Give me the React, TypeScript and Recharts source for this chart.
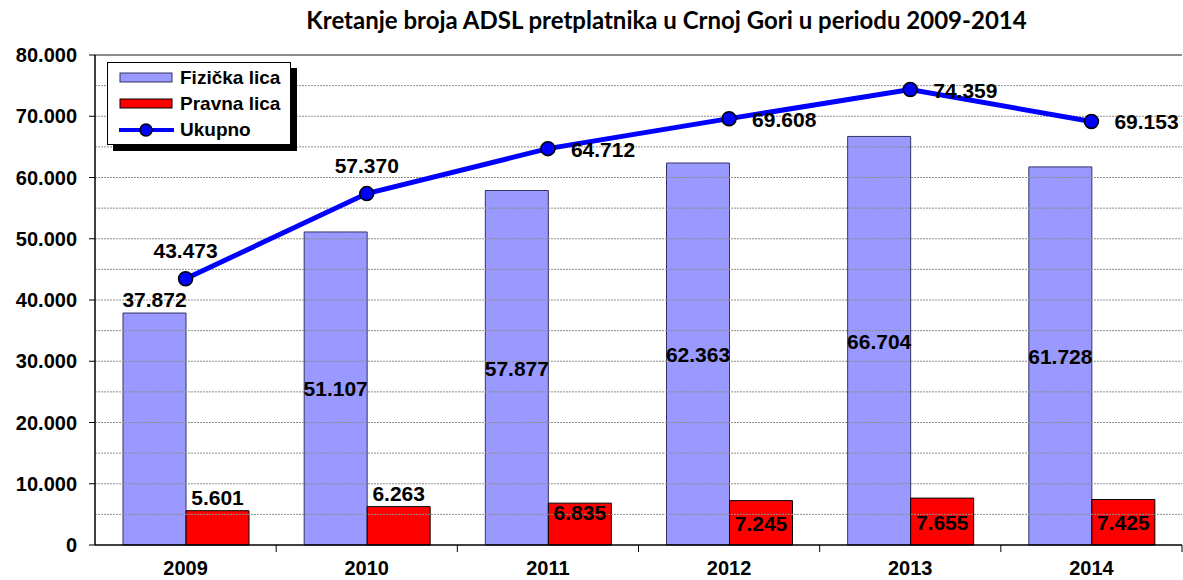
import React from 'react'
import { ComposedChart, Bar, Line, XAxis, YAxis, Legend, LabelList, ReferenceLine } from 'recharts'

const years = ['2009', '2010', '2011', '2012', '2013', '2014']
const fizicka = [37872, 51107, 57877, 62363, 66704, 61728]
const pravna = [5601, 6263, 6835, 7245, 7655, 7425]
const ukupno = [43473, 57370, 64712, 69608, 74359, 69153]
const yTicks = [0, 10000, 20000, 30000, 40000, 50000, 60000, 70000, 80000]
const gridValues = [5000, 10000, 15000, 20000, 25000, 30000, 35000, 40000, 45000, 50000, 55000, 60000, 65000, 70000, 75000]

// where each data label sits relative to its mark
const fizLabelPos = ['top', 'center', 'center', 'center', 'center', 'center']
const pravLabelPos = ['top', 'top', 'insideTop', 'center', 'center', 'center']
const lineLabelPos = ['top', 'top', 'right', 'right', 'right', 'right']

const W = 1183
const H = 580
const Y_W = 95
const M_RIGHT = 1
const BAND = (W - Y_W - M_RIGHT) / years.length
const FONT = 'Arial, "Liberation Sans", sans-serif'

const data = years.map((year, i) => ({
  year,
  fizicka: fizicka[i],
  pravna: pravna[i],
  ukupno: ukupno[i],
}))

const fmt = (v: number) => String(v).replace(/\B(?=(\d{3})+(?!\d))/g, '.')

const textStyle = { fontFamily: FONT, fontWeight: 700, fontSize: 20, fill: '#000' }
const labelStyle = { ...textStyle, fontSize: 21 }

const makeBarLabel = (pos: string[]) => (props: any) => {
  const { x, y, width, height, value, index } = props
  const cx = x + width / 2
  let ty = y + height / 2 + 8
  if (pos[index] === 'top') ty = y - 6
  if (pos[index] === 'insideTop') ty = y + 17
  return (
    <text x={cx} y={ty} textAnchor="middle" style={labelStyle}>
      {fmt(value)}
    </text>
  )
}

const LineLabel = (props: any) => {
  const { x, y, value, index } = props
  if (lineLabelPos[index] === 'top') {
    return (
      <text x={x} y={y - 21} textAnchor="middle" style={labelStyle}>
        {fmt(value)}
      </text>
    )
  }
  return (
    <text x={x + 23} y={y + 8} textAnchor="start" style={labelStyle}>
      {fmt(value)}
    </text>
  )
}

const XTick = (props: any) => {
  const { x, y, payload } = props
  return (
    <g>
      <line x1={x + BAND / 2} y1={y - 7} x2={x + BAND / 2} y2={y} stroke="#000" strokeWidth={1} />
      <text x={x} y={y + 23} textAnchor="middle" style={textStyle}>
        {payload.value}
      </text>
    </g>
  )
}

const renderLegend = () => (
  <div
    style={{
      width: 184,
      height: 83,
      background: '#fff',
      border: '1px solid #000',
      boxShadow: '6px 6px 0 #000',
      fontFamily: FONT,
      fontWeight: 700,
      fontSize: 19,
      boxSizing: 'border-box',
      paddingTop: 2,
    }}
  >
    {[
      { name: 'Fizička lica', kind: 'bar', fill: '#9999ff', stroke: '#333366' },
      { name: 'Pravna lica', kind: 'bar', fill: '#ff0000', stroke: '#000' },
      { name: 'Ukupno', kind: 'line', fill: '#0000ff', stroke: '#000' },
    ].map(item => (
      <div key={item.name} style={{ display: 'flex', alignItems: 'center', height: 26 }}>
        <svg width={62} height={20} style={{ marginLeft: 10 }}>
          {item.kind === 'bar' ? (
            <rect x={2} y={5} width={52} height={9} fill={item.fill} stroke={item.stroke} strokeWidth={1} />
          ) : (
            <g>
              <line x1={1} y1={10} x2={56} y2={10} stroke="#0000ff" strokeWidth={4} />
              <circle cx={28} cy={10} r={6} fill="#0000ff" stroke="#000" strokeWidth={1.5} />
            </g>
          )}
        </svg>
        <span>{item.name}</span>
      </div>
    ))}
  </div>
)

export default function App() {
  return (
    <div style={{ position: 'absolute', left: 0, top: 0, width: W, height: H, background: '#fff' }}>
      <div
        style={{
          position: 'absolute',
          left: 0,
          width: W,
          top: 5,
          textAlign: 'center',
          paddingLeft: 150,
          boxSizing: 'border-box',
          fontFamily: 'Lato, sans-serif',
          fontWeight: 700,
          fontSize: 24,
          color: '#000',
        }}
      >
        Kretanje broja ADSL pretplatnika u Crnoj Gori u periodu 2009-2014
      </div>
      <ComposedChart
        width={W}
        height={H}
        data={data}
        margin={{ top: 55, right: M_RIGHT, bottom: 0, left: 0 }}
        barGap={0}
      >
        {gridValues.map(v => (
          <ReferenceLine key={v} y={v} stroke="#8c8c8c" strokeDasharray="2 1" strokeWidth={1} />
        ))}
        <ReferenceLine y={80000} stroke="#8c8c8c" strokeWidth={2} />
        <XAxis
          dataKey="year"
          height={35}
          axisLine={{ stroke: '#000', strokeWidth: 1.5 }}
          tickLine={false}
          tickSize={7}
          tickMargin={0}
          tick={<XTick />}
          interval={0}
        />
        <YAxis
          width={Y_W}
          domain={[0, 80000]}
          ticks={yTicks}
          interval={0}
          tickFormatter={fmt}
          axisLine={{ stroke: '#000', strokeWidth: 1.5 }}
          tickLine={{ stroke: '#000' }}
          tickSize={6}
          tickMargin={12}
          tick={{ ...textStyle }}
        />
        <YAxis
          yAxisId="frame"
          orientation="right"
          width={0}
          tick={false}
          tickLine={false}
          axisLine={{ stroke: '#8c8c8c', strokeWidth: 2 }}
        />
        <Legend
          layout="vertical"
          align="center"
          verticalAlign="middle"
          content={renderLegend}
          wrapperStyle={{ position: 'absolute', left: 107, top: 62, width: 190, height: 90 }}
        />
        <Bar dataKey="fizicka" name="Fizička lica" barSize={63} fill="#9999ff" stroke="#333366" strokeWidth={1} isAnimationActive={false}>
          <LabelList dataKey="fizicka" content={makeBarLabel(fizLabelPos)} />
        </Bar>
        <Bar dataKey="pravna" name="Pravna lica" barSize={63} fill="#ff0000" stroke="#000" strokeWidth={1} isAnimationActive={false}>
          <LabelList dataKey="pravna" content={makeBarLabel(pravLabelPos)} />
        </Bar>
        <Line
          dataKey="ukupno"
          name="Ukupno"
          type="linear"
          stroke="#0000ff"
          strokeWidth={5}
          dot={{ r: 7, fill: '#0000ff', stroke: '#000', strokeWidth: 1.5 }}
          activeDot={false}
          isAnimationActive={false}
        >
          <LabelList dataKey="ukupno" content={LineLabel} />
        </Line>
      </ComposedChart>
    </div>
  )
}
